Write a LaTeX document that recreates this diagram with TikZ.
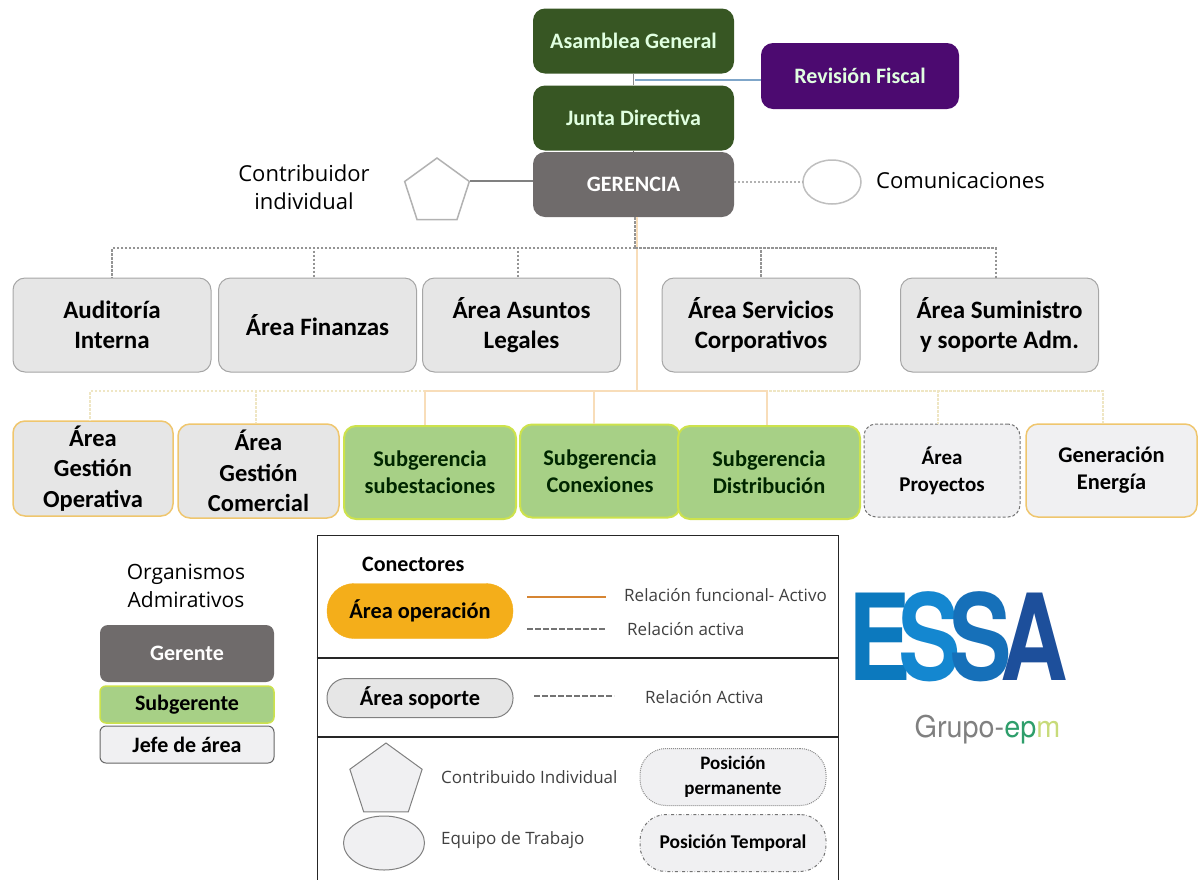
\documentclass[tikz,border=0pt]{standalone}
\usepackage{fontspec}
\setmainfont{Carlito}
\newfontfamily\labelfont{Open Sans}
\newfontfamily\logofont{TeX Gyre Heros}
\usetikzlibrary{shapes.geometric}
\definecolor{darkgreen}{HTML}{375623}
\definecolor{darkpurple}{HTML}{4C0A70}
\definecolor{mangray}{HTML}{6F6B6B}
\definecolor{softgray}{HTML}{E6E6E6}
\definecolor{palegray}{HTML}{F0F0F2}
\definecolor{linegray}{HTML}{A6A6A6}
\definecolor{softorange}{HTML}{F8DDB9}
\definecolor{softdot}{HTML}{EFE6C4}
\definecolor{gold}{HTML}{EFC66E}
\definecolor{subgreen}{HTML}{A7D086}
\definecolor{sublime}{HTML}{CDE24C}
\definecolor{opfill}{HTML}{F4AE1A}
\definecolor{tapblue}{HTML}{7FA6C9}

\begin{document}
\begin{tikzpicture}[x=1pt,y=-1pt]
    \tikzstyle{box}=[rectangle,rounded corners=12pt,align=center,inner sep=0pt,font=\bfseries\fontsize{22}{25}\selectfont]
    \tikzstyle{top box}=[box,fill=darkgreen,text=white!88!green,minimum width=201pt,minimum height=65pt]
    \tikzstyle{support box}=[box,fill=softgray,draw=linegray,line width=1pt,minimum width=198pt,minimum height=94pt,font=\bfseries\fontsize{25}{30}\selectfont]
    \tikzstyle{gold box}=[box,fill=softgray,draw=gold,line width=1.5pt,minimum height=95pt,font=\bfseries\fontsize{24.5}{30.5}\selectfont]
    \tikzstyle{sub box}=[box,fill=subgreen,draw=sublime,line width=2pt,minimum height=93pt,text=black!85!green,font=\bfseries\fontsize{22.4}{27}\selectfont]
    \tikzstyle{legend text}=[inner sep=0pt,anchor=west,text=black!75,font=\labelfont\fontsize{17}{20}\selectfont]
    \tikzstyle{pill}=[rectangle,rounded corners=20pt,align=center,inner sep=0pt,minimum width=186pt,font=\bfseries\fontsize{22.4}{26}\selectfont]
    \tikzstyle{active}=[dash pattern=on 2.5pt off 1.5pt,draw=black!42,line width=2pt]
    \tikzstyle{legend active}=[dash pattern=on 6pt off 2pt,draw=black!55,line width=2pt]
    \tikzstyle{soft active}=[dash pattern=on 2.5pt off 1.5pt,draw=softdot,line width=2pt]
    \tikzstyle{functional}=[draw=softorange,line width=2pt]
    \tikzstyle{frame line}=[draw=black!85,line width=1.2pt]
    \useasboundingbox (0,0) rectangle (1204,879);

% Nodes
    % Top of the chart
    \node[top box] (asamblea) at (633.5,41) {Asamblea General};
    \node[top box] (junta) at (633.5,118) {Junta Directiva};
    \node[top box,fill=mangray,text=white] (gerencia) at (633.5,184.5) {GERENCIA};
    \node[top box,fill=darkpurple,minimum width=198pt,minimum height=66pt] (revision) at (860,76) {Revisión Fiscal};

    \node[regular polygon,regular polygon sides=5,draw=black!30,line width=1.5pt,fill=white,minimum size=68pt,inner sep=0pt] (contrib) at (437,192) {};
    \node[ellipse,draw=black!25,line width=1.5pt,minimum width=58pt,minimum height=44pt,inner sep=0pt] (comun) at (832,182) {};
    \node[align=center,font=\labelfont\fontsize{22}{28}\selectfont] (contribtext) at (304,187) {Contribuidor\\individual};
    \node[anchor=west,inner sep=0pt,font=\labelfont\fontsize{22}{26}\selectfont] (comuntext) at (876,181) {Comunicaciones};

    % Support areas
    \foreach \name / \x / \label in {
        A/112/{Auditoría\\Interna},
        B/317.5/{Área Finanzas},
        C/521.5/{Área Asuntos\\Legales},
        D/761/{Área Servicios\\Corporativos},
        E/999.5/{Área Suministro\\y soporte Adm.}}
        \node[support box] (S-\name) at (\x,325) {\label};

    % Operation areas
    \node[gold box,minimum width=160pt] (O-1) at (93,468.5) {Área\\Gestión\\Operativa};
    \node[gold box,minimum width=161pt,minimum height=94pt] (O-2) at (258.5,471) {Área\\Gestión\\Comercial};
    \node[sub box,minimum width=172pt] (O-3) at (430,472.5) {Subgerencia\\subestaciones};
    \node[sub box,minimum width=160pt] (O-4) at (600,471) {Subgerencia\\Conexiones};
    \node[sub box,minimum width=182pt] (O-5) at (769,472.5) {Subgerencia\\Distribución};
    \node[gold box,fill=palegray,densely dashed,draw=black!55,line width=1pt,minimum width=156pt,minimum height=93pt,font=\bfseries\fontsize{21}{27}\selectfont] (O-6) at (942,470.5) {Área\\Proyectos};
    \node[gold box,fill=palegray,minimum width=171pt,minimum height=93pt,font=\bfseries\fontsize{22.4}{27}\selectfont] (O-7) at (1111.5,470.5) {Generación\\Energía};

    % Small legend on the left
    \node[align=center,font=\labelfont\fontsize{21}{28}\selectfont] (orgtext) at (186,586) {Organismos\\Admirativos};
    \node[box,fill=mangray,text=white,minimum width=174pt,minimum height=57pt,rounded corners=8pt] (gerente) at (187,653.5) {Gerente};
    \node[box,fill=subgreen,draw=sublime,line width=1.5pt,minimum width=174pt,minimum height=37pt,rounded corners=6pt] (subgerente) at (187,704.5) {Subgerente};
    \node[box,fill=palegray,draw=black!60,line width=1pt,minimum width=174pt,minimum height=37pt,rounded corners=6pt] (jefe) at (187,744.5) {Jefe de área};

    % Legend frame
    \node[frame line,minimum width=521pt,minimum height=350pt,inner sep=0pt,anchor=north west] (frame) at (316.5,535) {};
    \coordinate (cut1l) at (316.5,658);
    \coordinate (cut1r) at (837.5,658);
    \coordinate (cut2l) at (316.5,737);
    \coordinate (cut2r) at (837.5,737);

    \node[anchor=west,inner sep=0pt,font=\bfseries\fontsize{22}{26}\selectfont] (conectores) at (362,564) {Conectores};
    \node[pill,fill=opfill,draw=opfill,rounded corners=27pt,minimum height=55pt] (operacion) at (420,611) {Área operación};
    \node[pill,fill=softgray,draw=black!50,line width=1pt,minimum height=39pt,rounded corners=19pt] (soporte) at (420,698) {Área soporte};
    \coordinate (lineA) at (527,597);
    \coordinate (lineB) at (606,597);
    \coordinate (lineC) at (527,629);
    \coordinate (lineD) at (606,629);
    \coordinate (lineE) at (534,696);
    \coordinate (lineF) at (614,696);
    \node[legend text] (reltext1) at (624,595) {Relación funcional- Activo};
    \node[legend text] (reltext2) at (627,629) {Relación activa};
    \node[legend text] (reltext3) at (645,697) {Relación Activa};

    \node[regular polygon,regular polygon sides=5,draw=black!50,fill=palegray,line width=1pt,minimum size=76pt,inner sep=0pt] (legpenta) at (386,781) {};
    \node[ellipse,draw=black!50,fill=palegray,line width=1pt,minimum width=81pt,minimum height=54pt,inner sep=0pt] (legellipse) at (384,843) {};
    \node[legend text] (penttext) at (441,777) {Contribuido Individual};
    \node[legend text] (elltext) at (441,840) {Equipo de Trabajo};
    \node[pill,fill=palegray,draw=black!45,densely dotted,line width=1pt,minimum height=57pt,rounded corners=26pt,font=\bfseries\fontsize{19}{25}\selectfont] (permanente) at (733,777) {Posición\\permanente};
    \node[pill,fill=palegray,draw=black!55,dash dot,line width=1pt,minimum height=57pt,rounded corners=26pt,font=\bfseries\fontsize{19.5}{22}\selectfont] (temporal) at (733,843) {Posición Temporal};

    % Logo
    \node[inner sep=0pt,xscale=.78,font=\logofont\bfseries\fontsize{120}{120}\selectfont] (essa) at (958,637) {\textcolor[HTML]{0C79BE}{E}\kern-.125em\textcolor[HTML]{1487D0}{S}\kern-.125em\textcolor[HTML]{1670B9}{S}\kern-.125em\textcolor[HTML]{1D4F9B}{A}};
    \node[inner sep=0pt,xscale=.96,font=\logofont\fontsize{30}{30}\selectfont] (grupo) at (987.5,730) {\textcolor{black!50}{Grupo-}\textcolor[HTML]{2E9E6B}{ep}\textcolor[HTML]{C8DB7A}{m}};

% Paths
    \coordinate (busA) at (635,248);
    \coordinate (busB) at (637,391);
    \coordinate (tap) at (635,80);

    % Top of the chart
    \draw[draw=black!45,line width=1.2pt] (asamblea) -- (junta);
    \draw[draw=black!60,line width=1pt] (junta) -- (gerencia);
    \draw[draw=tapblue,line width=2pt] (tap) -- (revision.west |- tap);
    \draw[draw=black!50,line width=2pt] (contrib.corner 5) -- (contrib.corner 5 -| gerencia.west);
    \draw[dotted,draw=black!30,line width=2pt] (comun.west -| gerencia.east) -- (comun.west);

    % Trunk down to the operation areas
    \draw[functional] (gerencia.south -| busB) -- (busB);

    % Gerencia with support areas
    \draw[active] (gerencia.south -| busA) -- (busA);
    \foreach \name / \shift in {A/0,B/-4,C/-4,D/0,E/-4}
        \draw[active] (busA) -| ([xshift=\shift pt]S-\name.north);

    % Gerencia with operation areas
    \foreach \dest / \shift in {1/-3,2/-2.5,6/-4,7/-8.5}
        \draw[soft active] (busB) -| ([xshift=\shift pt]O-\dest.north);
    \foreach \dest / \shift in {3/-5,4/-6,5/-2}
        \draw[functional] (busB) -| ([xshift=\shift pt]O-\dest.north);

    % Legend
    \draw[frame line] (cut1l) -- (cut1r);
    \draw[frame line] (cut2l) -- (cut2r);
    \draw[draw=orange!80!black!80,line width=2.5pt] (lineA) -- (lineB);
    \draw[legend active] (lineC) -- (lineD);
    \draw[legend active] (lineE) -- (lineF);
\end{tikzpicture}
\end{document}
